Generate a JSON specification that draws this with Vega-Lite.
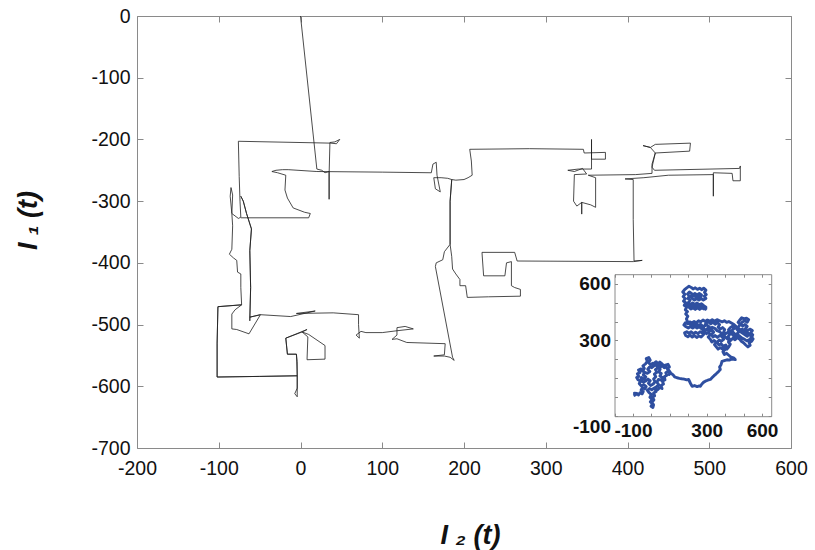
{
"$schema": "https://vega.github.io/schema/vega-lite/v6.json",
"padding": {"left": 14, "top": 6, "right": 2, "bottom": 2},
"background": "white",
"config": {"view": {"stroke": "#8a8a8a", "strokeWidth": 1}, "font": "Liberation Sans"},
"datasets": {
"main": [
{"x":0,"y":0},{"x":20,"y":-248},{"x":26,"y":-250},{"x":30,"y":-254},{"x":35,"y":-252},{"x":35,"y":-297},{"x":35,"y":-256},{"x":36,"y":-205},{"x":42,"y":-204},{"x":48,"y":-200},{"x":44,"y":-207},{"x":37,"y":-206},{"x":-76,"y":-203},{"x":-75,"y":-260},{"x":-74,"y":-300},{"x":-73,"y":-326},{"x":-76,"y":-328},{"x":-84,"y":-320},{"x":-86,"y":-292},{"x":-85,"y":-278},{"x":-83,"y":-290},{"x":-84,"y":-320},{"x":-83,"y":-340},{"x":-84,"y":-378},{"x":-87,"y":-386},{"x":-82,"y":-392},{"x":-78,"y":-396},{"x":-77,"y":-415},{"x":-73,"y":-418},{"x":-73,"y":-440},{"x":-72,"y":-468},{"x":-101,"y":-471},{"x":-102,"y":-530},{"x":-102,"y":-585},{"x":-50,"y":-584},{"x":-4,"y":-583},{"x":-4,"y":-617},{"x":-7,"y":-612},{"x":-4,"y":-603},{"x":-4,"y":-583},{"x":-4,"y":-560},{"x":-5,"y":-548},{"x":-16,"y":-548},{"x":-18,"y":-522},{"x":8,"y":-508},{"x":2,"y":-512},{"x":10,"y":-516},{"x":30,"y":-534},{"x":30,"y":-556},{"x":8,"y":-557},{"x":9,"y":-520},{"x":2,"y":-512},{"x":-18,"y":-522},{"x":-16,"y":-548},{"x":-5,"y":-548},{"x":-4,"y":-583},{"x":-50,"y":-584},{"x":-102,"y":-585},{"x":-102,"y":-530},{"x":-101,"y":-471},{"x":-72,"y":-468},{"x":-80,"y":-476},{"x":-84,"y":-483},{"x":-84,"y":-507},{"x":-78,"y":-508},{"x":-63,"y":-515},{"x":-49,"y":-484},{"x":-62,"y":-488},{"x":-62,"y":-494},{"x":-61,"y":-440},{"x":-62,"y":-380},{"x":-60,"y":-345},{"x":-66,"y":-320},{"x":-70,"y":-300},{"x":-73,"y":-292},{"x":-70,"y":-300},{"x":-66,"y":-320},{"x":-60,"y":-345},{"x":-62,"y":-380},{"x":-61,"y":-440},{"x":-62,"y":-488},{"x":-49,"y":-484},{"x":-12,"y":-487},{"x":18,"y":-478},{"x":-5,"y":-482},{"x":40,"y":-481},{"x":71,"y":-484},{"x":71,"y":-500},{"x":72,"y":-522},{"x":68,"y":-517},{"x":74,"y":-511},{"x":80,"y":-513},{"x":100,"y":-513},{"x":118,"y":-510},{"x":138,"y":-507},{"x":128,"y":-503},{"x":118,"y":-505},{"x":118,"y":-517},{"x":112,"y":-524},{"x":118,"y":-523},{"x":130,"y":-529},{"x":177,"y":-531},{"x":176,"y":-549},{"x":163,"y":-551},{"x":176,"y":-551},{"x":183,"y":-553},{"x":188,"y":-558},{"x":186,"y":-553},{"x":165,"y":-406},{"x":166,"y":-400},{"x":174,"y":-395},{"x":176,"y":-382},{"x":183,"y":-370},{"x":185,"y":-390},{"x":186,"y":-410},{"x":190,"y":-418},{"x":195,"y":-427},{"x":195,"y":-437},{"x":202,"y":-437},{"x":204,"y":-456},{"x":230,"y":-455},{"x":269,"y":-454},{"x":269,"y":-443},{"x":262,"y":-440},{"x":258,"y":-437},{"x":258,"y":-398},{"x":252,"y":-400},{"x":250,"y":-421},{"x":224,"y":-421},{"x":222,"y":-383},{"x":262,"y":-383},{"x":265,"y":-397},{"x":407,"y":-398},{"x":418,"y":-396},{"x":408,"y":-397},{"x":407,"y":-330},{"x":407,"y":-265},{"x":397,"y":-264},{"x":420,"y":-262},{"x":450,"y":-258},{"x":505,"y":-257},{"x":505,"y":-292},{"x":505,"y":-254},{"x":528,"y":-255},{"x":529,"y":-267},{"x":538,"y":-267},{"x":538,"y":-243},{"x":537,"y":-247},{"x":433,"y":-250},{"x":430,"y":-245},{"x":434,"y":-222},{"x":428,"y":-213},{"x":419,"y":-210},{"x":428,"y":-213},{"x":434,"y":-208},{"x":477,"y":-206},{"x":476,"y":-219},{"x":434,"y":-222},{"x":430,"y":-240},{"x":430,"y":-255},{"x":410,"y":-257},{"x":352,"y":-258},{"x":361,"y":-262},{"x":361,"y":-310},{"x":355,"y":-306},{"x":344,"y":-302},{"x":344,"y":-321},{"x":344,"y":-302},{"x":338,"y":-308},{"x":334,"y":-300},{"x":335,"y":-257},{"x":350,"y":-256},{"x":345,"y":-247},{"x":335,"y":-252},{"x":327,"y":-250},{"x":340,"y":-248},{"x":356,"y":-248},{"x":356,"y":-200},{"x":356,"y":-232},{"x":373,"y":-232},{"x":373,"y":-221},{"x":347,"y":-222},{"x":346,"y":-216},{"x":280,"y":-215},{"x":207,"y":-216},{"x":209,"y":-235},{"x":210,"y":-258},{"x":205,"y":-262},{"x":200,"y":-265},{"x":190,"y":-266},{"x":185,"y":-265},{"x":183,"y":-300},{"x":183,"y":-370},{"x":183,"y":-300},{"x":185,"y":-265},{"x":180,"y":-263},{"x":172,"y":-262},{"x":163,"y":-262},{"x":165,"y":-280},{"x":171,"y":-285},{"x":167,"y":-258},{"x":166,"y":-237},{"x":162,"y":-240},{"x":160,"y":-254},{"x":100,"y":-253},{"x":20,"y":-252},{"x":-15,"y":-249},{"x":-22,"y":-249},{"x":-30,"y":-250},{"x":-35,"y":-252},{"x":-28,"y":-254},{"x":-18,"y":-258},{"x":-19,"y":-282},{"x":-16,"y":-295},{"x":-9,"y":-311},{"x":5,"y":-318},{"x":12,"y":-320},{"x":10,"y":-327},{"x":-73,"y":-327}
],
"inset": [
{"x":-97,"y":8},{"x":-85,"y":14},{"x":-92,"y":22},{"x":-78,"y":20},{"x":-70,"y":12},{"x":-62,"y":24},{"x":-50,"y":18},{"x":-44,"y":30},{"x":-56,"y":38},{"x":-48,"y":50},{"x":-36,"y":44},{"x":-28,"y":56},{"x":-40,"y":66},{"x":-55,"y":60},{"x":-66,"y":72},{"x":-58,"y":84},{"x":-72,"y":92},{"x":-80,"y":104},{"x":-68,"y":110},{"x":-76,"y":124},{"x":-62,"y":130},{"x":-70,"y":144},{"x":-56,"y":150},{"x":-48,"y":138},{"x":-38,"y":152},{"x":-46,"y":166},{"x":-32,"y":176},{"x":-22,"y":190},{"x":-28,"y":204},{"x":-14,"y":210},{"x":-6,"y":196},{"x":-16,"y":184},{"x":-4,"y":172},{"x":8,"y":180},{"x":14,"y":166},{"x":2,"y":156},{"x":-10,"y":160},{"x":-20,"y":148},{"x":-8,"y":136},{"x":-22,"y":126},{"x":-36,"y":132},{"x":-44,"y":118},{"x":-30,"y":108},{"x":-40,"y":96},{"x":-54,"y":104},{"x":-58,"y":90},{"x":-44,"y":80},{"x":-30,"y":86},{"x":-18,"y":96},{"x":-6,"y":88},{"x":-16,"y":74},{"x":-4,"y":62},{"x":10,"y":70},{"x":20,"y":82},{"x":12,"y":96},{"x":24,"y":108},{"x":16,"y":122},{"x":30,"y":132},{"x":22,"y":146},{"x":36,"y":156},{"x":48,"y":148},{"x":40,"y":134},{"x":54,"y":126},{"x":46,"y":112},{"x":60,"y":104},{"x":52,"y":90},{"x":38,"y":94},{"x":30,"y":80},{"x":40,"y":66},{"x":28,"y":56},{"x":14,"y":48},{"x":2,"y":40},{"x":-10,"y":46},{"x":-22,"y":36},{"x":-12,"y":24},{"x":0,"y":14},{"x":-8,"y":0},{"x":4,"y":-12},{"x":-6,"y":-24},{"x":6,"y":-36},{"x":-2,"y":-48},{"x":8,"y":-54},{"x":12,"y":-40},{"x":4,"y":-26},{"x":14,"y":-14},{"x":6,"y":0},{"x":18,"y":8},{"x":12,"y":22},{"x":26,"y":30},{"x":20,"y":44},{"x":34,"y":40},{"x":46,"y":52},{"x":58,"y":46},{"x":52,"y":62},{"x":66,"y":70},{"x":60,"y":84},{"x":74,"y":92},{"x":70,"y":108},{"x":84,"y":116},{"x":78,"y":130},{"x":92,"y":138},{"x":86,"y":152},{"x":98,"y":160},{"x":90,"y":174},{"x":76,"y":170},{"x":70,"y":156},{"x":60,"y":166},{"x":48,"y":160},{"x":58,"y":176},{"x":46,"y":186},{"x":36,"y":176},{"x":26,"y":188},{"x":16,"y":180},{"x":28,"y":166},{"x":44,"y":172},{"x":62,"y":172},{"x":78,"y":160},{"x":92,"y":146},{"x":103,"y":132},{"x":96,"y":120},
{"x":103,"y":129},{"x":118,"y":118},{"x":126,"y":108},{"x":139,"y":103},{"x":152,"y":100},{"x":164,"y":98},{"x":178,"y":96},{"x":192,"y":92},{"x":202,"y":94},{"x":208,"y":82},{"x":214,"y":70},{"x":221,"y":58},{"x":234,"y":62},{"x":248,"y":56},{"x":260,"y":60},{"x":266,"y":58},{"x":274,"y":70},{"x":284,"y":80},{"x":293,"y":85},{"x":306,"y":90},{"x":320,"y":94},{"x":330,"y":104},{"x":340,"y":114},{"x":347,"y":120},{"x":356,"y":128},{"x":366,"y":138},{"x":374,"y":147},{"x":370,"y":160},{"x":378,"y":172},{"x":383,"y":190},{"x":396,"y":194},{"x":410,"y":198},{"x":422,"y":196},{"x":428,"y":199},{"x":440,"y":202},{"x":455,"y":199},{"x":446,"y":208},{"x":432,"y":212},
{"x":420,"y":222},{"x":408,"y":232},{"x":396,"y":226},{"x":388,"y":240},{"x":400,"y":252},{"x":412,"y":262},{"x":404,"y":276},{"x":390,"y":270},{"x":378,"y":282},{"x":366,"y":276},{"x":356,"y":290},{"x":368,"y":302},{"x":380,"y":296},{"x":392,"y":306},{"x":384,"y":320},{"x":370,"y":326},{"x":358,"y":316},{"x":346,"y":326},{"x":334,"y":318},{"x":326,"y":332},{"x":338,"y":344},{"x":326,"y":356},{"x":314,"y":348},{"x":302,"y":360},{"x":314,"y":372},{"x":300,"y":382},{"x":288,"y":376},{"x":296,"y":392},{"x":310,"y":398},{"x":322,"y":388},{"x":334,"y":396},{"x":346,"y":386},{"x":358,"y":394},{"x":370,"y":384},{"x":362,"y":370},{"x":374,"y":360},{"x":386,"y":368},{"x":398,"y":358},{"x":392,"y":344},{"x":404,"y":336},{"x":416,"y":344},{"x":424,"y":330},{"x":414,"y":318},{"x":426,"y":306},{"x":418,"y":292},{"x":428,"y":280},{"x":420,"y":266},{"x":410,"y":254},{"x":398,"y":262},{"x":386,"y":254},{"x":374,"y":262},{"x":362,"y":254},{"x":352,"y":266},{"x":342,"y":278},{"x":352,"y":290},{"x":340,"y":300},{"x":328,"y":292},{"x":320,"y":306},{"x":308,"y":318},{"x":320,"y":330},{"x":310,"y":342},{"x":298,"y":336},{"x":290,"y":350},{"x":302,"y":362},{"x":316,"y":362},{"x":330,"y":370},{"x":344,"y":364},{"x":356,"y":352},{"x":370,"y":346},{"x":382,"y":336},{"x":396,"y":324},{"x":408,"y":312},{"x":420,"y":304},
{"x":430,"y":300},{"x":442,"y":312},{"x":454,"y":304},{"x":466,"y":316},{"x":478,"y":308},{"x":488,"y":296},{"x":500,"y":288},{"x":512,"y":276},{"x":524,"y":266},{"x":536,"y":274},{"x":530,"y":288},{"x":544,"y":296},{"x":552,"y":308},{"x":540,"y":318},{"x":550,"y":330},{"x":538,"y":340},{"x":548,"y":352},{"x":534,"y":360},{"x":522,"y":352},{"x":510,"y":362},{"x":520,"y":374},{"x":508,"y":384},{"x":496,"y":376},{"x":484,"y":386},{"x":494,"y":398},{"x":508,"y":404},{"x":520,"y":396},{"x":528,"y":410},{"x":516,"y":418},{"x":502,"y":414},{"x":490,"y":420},{"x":480,"y":408},{"x":470,"y":396},{"x":482,"y":384},{"x":472,"y":372},{"x":460,"y":364},{"x":470,"y":352},{"x":484,"y":346},{"x":496,"y":338},{"x":508,"y":330},{"x":520,"y":322},{"x":530,"y":334},{"x":518,"y":344},{"x":506,"y":352},{"x":494,"y":360},{"x":482,"y":356},{"x":470,"y":340},{"x":458,"y":330},{"x":446,"y":340},{"x":436,"y":352},{"x":448,"y":362},{"x":440,"y":376},{"x":428,"y":368},{"x":418,"y":356},{"x":430,"y":344},{"x":444,"y":326},{"x":456,"y":320},{"x":468,"y":330},{"x":480,"y":322},{"x":492,"y":312},{"x":506,"y":306},{"x":518,"y":298},{"x":530,"y":304},{"x":542,"y":312},{"x":548,"y":324},
{"x":536,"y":328},{"x":522,"y":336},{"x":508,"y":342},{"x":494,"y":348},{"x":478,"y":360},{"x":462,"y":372},{"x":448,"y":384},{"x":434,"y":392},{"x":420,"y":400},{"x":408,"y":396},{"x":396,"y":404},{"x":384,"y":398},{"x":370,"y":404},{"x":356,"y":410},{"x":342,"y":402},{"x":330,"y":410},{"x":318,"y":402},{"x":304,"y":408},{"x":292,"y":400},{"x":280,"y":408},{"x":268,"y":398},{"x":256,"y":404},{"x":244,"y":394},{"x":232,"y":400},{"x":220,"y":392},{"x":208,"y":398},{"x":196,"y":388},{"x":184,"y":394},{"x":176,"y":382},{"x":188,"y":372},{"x":200,"y":366},{"x":212,"y":374},{"x":224,"y":366},{"x":236,"y":374},{"x":248,"y":366},{"x":260,"y":372},{"x":272,"y":362},{"x":284,"y":354},{"x":276,"y":340},{"x":264,"y":346},{"x":252,"y":336},{"x":240,"y":344},{"x":228,"y":336},{"x":216,"y":346},{"x":204,"y":338},{"x":192,"y":346},{"x":180,"y":340},{"x":186,"y":326},{"x":198,"y":320},{"x":210,"y":328},{"x":222,"y":318},{"x":234,"y":326},{"x":246,"y":316},{"x":258,"y":324},{"x":270,"y":318},{"x":282,"y":330},{"x":290,"y":344},{"x":286,"y":360},{"x":278,"y":376},{"x":266,"y":386},{"x":254,"y":380},{"x":242,"y":390},{"x":230,"y":384},{"x":218,"y":380},{"x":206,"y":388},{"x":196,"y":400},{"x":190,"y":414},{"x":198,"y":428},{"x":186,"y":440},{"x":196,"y":452},{"x":184,"y":462},{"x":192,"y":476},{"x":178,"y":486},{"x":188,"y":498},{"x":174,"y":508},{"x":184,"y":520},{"x":172,"y":532},{"x":182,"y":544},{"x":170,"y":556},{"x":180,"y":568},{"x":192,"y":578},{"x":204,"y":586},{"x":216,"y":580},{"x":226,"y":572},{"x":238,"y":578},{"x":250,"y":570},{"x":262,"y":576},{"x":274,"y":568},{"x":284,"y":576},{"x":296,"y":566},{"x":288,"y":554},{"x":298,"y":542},{"x":286,"y":534},{"x":296,"y":522},{"x":282,"y":514},{"x":270,"y":522},{"x":258,"y":514},{"x":246,"y":522},{"x":234,"y":514},{"x":222,"y":522},{"x":212,"y":532},{"x":224,"y":540},{"x":236,"y":548},{"x":248,"y":540},{"x":260,"y":548},{"x":272,"y":540},{"x":266,"y":528},{"x":254,"y":532},{"x":242,"y":530},{"x":230,"y":536},{"x":218,"y":548},{"x":206,"y":556},{"x":196,"y":546},{"x":206,"y":534},{"x":198,"y":522},{"x":210,"y":512},{"x":200,"y":500},{"x":212,"y":490},{"x":224,"y":498},{"x":236,"y":490},{"x":248,"y":498},{"x":260,"y":488},{"x":272,"y":494},{"x":284,"y":484},{"x":296,"y":476},{"x":286,"y":466},{"x":274,"y":472},{"x":262,"y":464},{"x":250,"y":472},{"x":238,"y":464},{"x":226,"y":472},{"x":214,"y":466},{"x":204,"y":476},{"x":194,"y":488},{"x":206,"y":478},{"x":218,"y":484},{"x":230,"y":478},{"x":242,"y":484},{"x":254,"y":480},{"x":266,"y":476},{"x":278,"y":480},{"x":290,"y":470},{"x":300,"y":462}
]
},
"width": 654, "height": 432,
"resolve": {"scale": {"x": "independent", "y": "independent"}, "axis": {"x": "independent", "y": "independent"}},
"layer": [
{
"data": {"name": "main"},
"mark": {"type": "line", "color": "#1e1e1e", "strokeWidth": 0.8},
"encoding": {
"x": {"field": "x", "type": "quantitative", "scale": {"domain": [-200, 600], "nice": false, "zero": false},
"axis": {"orient": "bottom", "values": [-200,-100,0,100,200,300,400,500,600], "labelExpr": "'' + datum.value", "labelFlush": false, "labelOverlap": false, "labelBound": false, "grid": false, "domain": false, "tickSize": -6, "tickColor": "#8a8a8a", "labelPadding": 17, "labelFontSize": 19.5, "labelColor": "#111", "labelFont": "Liberation Sans", "title": "I ₂ (t)", "titleFont": "Liberation Sans", "titleFontSize": 27, "titleFontStyle": "italic", "titleFontWeight": "bold", "titleColor": "#111", "titlePadding": 45, "titleX": 333}},
"y": {"field": "y", "type": "quantitative", "scale": {"domain": [-700, 0], "nice": false, "zero": false},
"axis": {"orient": "left", "values": [-700,-600,-500,-400,-300,-200,-100,0], "labelExpr": "'' + datum.value", "labelFlush": false, "labelOverlap": false, "labelBound": false, "grid": false, "domain": false, "tickSize": -6, "tickColor": "#8a8a8a", "labelPadding": 13, "labelFontSize": 19.5, "labelColor": "#111", "labelFont": "Liberation Sans", "title": "I ₁ (t)", "titleFont": "Liberation Sans", "titleFontSize": 27, "titleFontStyle": "italic", "titleFontWeight": "bold", "titleColor": "#111", "titlePadding": 48, "titleY": 204}},
"order": {"value": null}
}
},
{
"data": {"name": "main"},
"mark": {"type": "point", "opacity": 0},
"encoding": {
"x": {"field": "x", "type": "quantitative", "scale": {"domain": [-200, 600], "nice": false, "zero": false}, "axis": {"orient": "top", "values": [-200,-100,0,100,200,300,400,500,600], "labels": false, "grid": false, "domain": false, "tickSize": -6, "tickColor": "#8a8a8a", "title": null}},
"y": {"field": "y", "type": "quantitative", "scale": {"domain": [-700, 0], "nice": false, "zero": false}, "axis": {"orient": "right", "values": [-700,-600,-500,-400,-300,-200,-100,0], "labels": false, "grid": false, "domain": false, "tickSize": -6, "tickColor": "#8a8a8a", "title": null}}
}
},
{
"data": {"name": "inset"},
"mark": {"type": "line", "color": "#2f4fa0", "strokeWidth": 2.9, "strokeJoin": "round"},
"encoding": {
"x": {"field": "x", "type": "quantitative", "scale": {"domain": [-200, 650], "nice": false, "zero": false, "range": [477.5, 634.2]},
"axis": {"orient": "bottom", "offset": -31.8, "values": [-200,-100,0,100,200,300,400,500,600], "labelExpr": "(datum.value == -100 || datum.value == 300 || datum.value == 600) ? '' + datum.value : ''", "labelFlush": false, "labelOverlap": false, "labelBound": false, "grid": false, "domain": true, "domainColor": "#8a8a8a", "tickSize": -3, "tickColor": "#8a8a8a", "labelPadding": 8, "labelFontSize": 19, "labelFontWeight": "bold", "labelColor": "#111", "labelFont": "Liberation Sans", "title": null}},
"y": {"field": "y", "type": "quantitative", "scale": {"domain": [-100, 650], "nice": false, "zero": false, "range": [400.2, 258.2]},
"axis": {"orient": "left", "offset": -477.5, "values": [-100,0,100,200,300,400,500,600], "labelExpr": "(datum.value == -100 || datum.value == 300 || datum.value == 600) ? '' + datum.value : ''", "labelOffset": {"condition": {"test": "datum.value == -100", "value": 10}, "value": 0}, "labelFlush": false, "labelOverlap": false, "labelBound": false, "grid": false, "domain": true, "domainColor": "#8a8a8a", "tickSize": -3, "tickColor": "#8a8a8a", "labelPadding": 7, "labelFontSize": 19, "labelFontWeight": "bold", "labelColor": "#111", "labelFont": "Liberation Sans", "title": null}},
"order": {"value": null}
}
},
{
"data": {"name": "inset"},
"mark": {"type": "point", "opacity": 0},
"encoding": {
"x": {"field": "x", "type": "quantitative", "scale": {"domain": [-200, 650], "nice": false, "zero": false, "range": [477.5, 634.2]},
"axis": {"orient": "top", "offset": -258.2, "values": [-200,-100,0,100,200,300,400,500,600], "labels": false, "grid": false, "domain": true, "domainColor": "#8a8a8a", "tickSize": -3, "tickColor": "#8a8a8a", "title": null}},
"y": {"field": "y", "type": "quantitative", "scale": {"domain": [-100, 650], "nice": false, "zero": false, "range": [400.2, 258.2]},
"axis": {"orient": "right", "offset": -19.8, "values": [-100,0,100,200,300,400,500,600], "labels": false, "grid": false, "domain": true, "domainColor": "#8a8a8a", "tickSize": -3, "tickColor": "#8a8a8a", "title": null}}
}
}
]
}
